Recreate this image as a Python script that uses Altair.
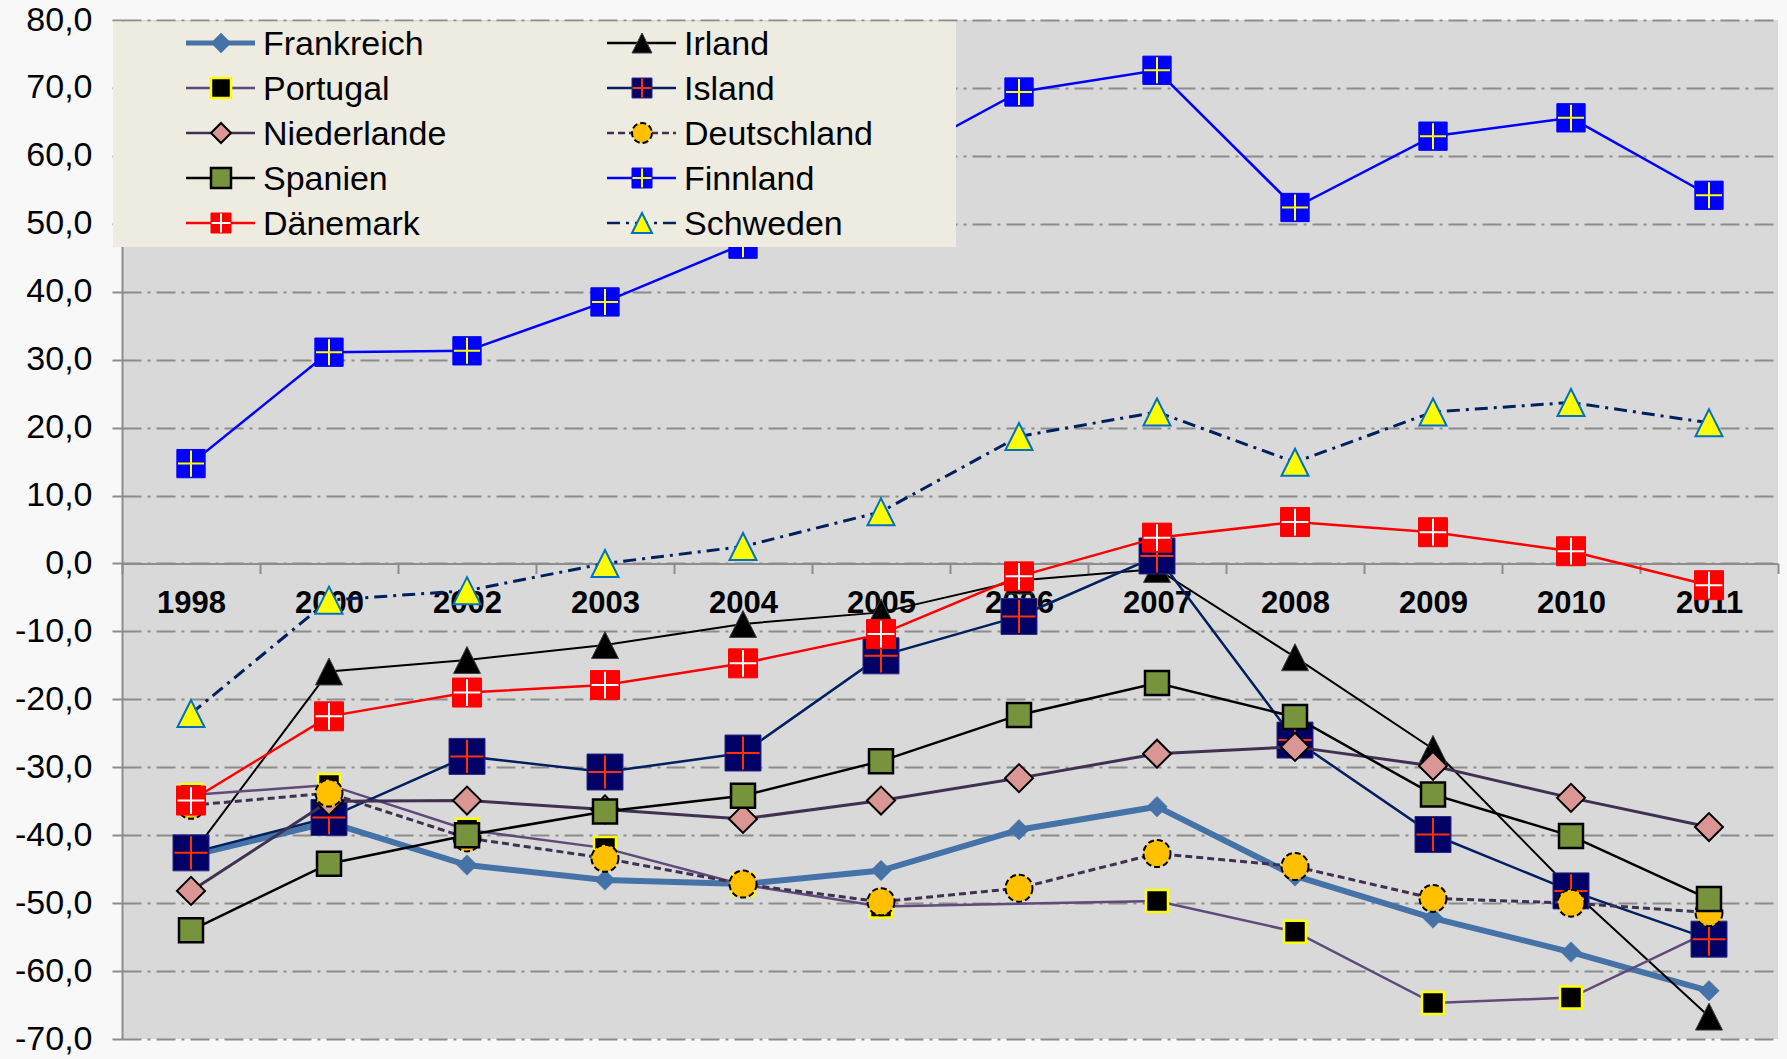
import altair as alt
import pandas as pd

# ---------------- data ----------------
years = ["1998", "2000", "2002", "2003", "2004", "2005", "2006",
         "2007", "2008", "2009", "2010", "2011"]

frankreich = [-43.0, -38.1, -44.4, -46.6, -47.2, -45.2, -39.2, -35.8, -46.0, -52.2, -57.2, -62.9]
irland = [-43.0, -15.9, -14.2, -12.0, -8.9, -7.2, -2.5, -0.8, -13.8, -27.3, -48.0, -66.7]
portugal = [-34.1, -32.6, -39.2, -41.9, -47.3, -50.5, None, -49.7, -54.2, -64.7, -63.9, -54.2]
island = [-42.6, -37.4, -28.4, -30.7, -27.9, -13.6, -7.8, 1.1, -26.0, -39.9, -48.2, -55.3]
niederlande = [-48.2, -35.0, -34.9, -36.2, -37.6, -34.9, -31.6, -28.0, -27.0, -29.8, -34.5, -38.8]
deutschland = [-35.6, -33.8, -40.4, -43.4, -47.2, -49.8, -47.8, -42.7, -44.6, -49.3, -50.0, -51.4]
spanien = [-54.0, -44.2, -40.0, -36.5, -34.2, -29.1, -22.3, -17.6, -22.6, -34.0, -40.1, -49.4]
finnland = [14.7, 31.1, 31.3, 38.5, 47.0, 58.4, 69.4, 72.6, 52.4, 62.9, 65.6, 54.2]
daenemark = [-34.9, -22.5, -19.0, -17.9, -14.7, -10.4, -1.9, 3.8, 6.1, 4.6, 1.8, -3.2]
schweden = [-22.1, -5.4, -4.0, 0.0, 2.5, 7.6, 18.7, 22.3, 14.9, 22.3, 23.7, 20.7]

series_names = ["Frankreich", "Irland", "Portugal", "Island", "Niederlande",
                "Deutschland", "Spanien", "Finnland", "Dänemark", "Schweden"]
series_values = [frankreich, irland, portugal, island, niederlande,
                 deutschland, spanien, finnland, daenemark, schweden]

# ---------------- layout / style ----------------
W, H = 1656, 1019
FONT = "Liberation Sans"
GRID = "#8c8c8c"
TRI = "M0,-1L1,1L-1,1Z"
CROSS = "M-1,0L1,0M0,-1L0,1"

styles = {
    "Frankreich": dict(line="#4572a7", lw=6, dash=None, shape="diamond", size=420,
                       fill="#4572a7", stroke="#4572a7", sw=0.5, cross=None),
    "Irland": dict(line="#000000", lw=2, dash=None, shape=TRI, size=729,
                   fill="#000000", stroke="#404040", sw=1, cross=None),
    "Portugal": dict(line="#604a7b", lw=2.5, dash=None, shape="square", size=484,
                     fill="#000000", stroke="#ffff00", sw=2.5, cross=None),
    "Island": dict(line="#002060", lw=2.5, dash=None, shape="square", size=1296,
                   fill="#000066", stroke="#2a2a80", sw=1, cross="#ff3300"),
    "Niederlande": dict(line="#403152", lw=3, dash=None, shape="diamond", size=784,
                        fill="#d99694", stroke="#000000", sw=2, cross=None),
    "Deutschland": dict(line="#403152", lw=3, dash=[7, 4], shape="circle", size=729,
                        fill="#ffc000", stroke="#000000", sw=2, cross=None, mdash=[6, 3]),
    "Spanien": dict(line="#000000", lw=2.5, dash=None, shape="square", size=576,
                    fill="#77933c", stroke="#000000", sw=2.5, cross=None),
    "Finnland": dict(line="#0000ff", lw=2.5, dash=None, shape="square", size=800,
                     fill="#0000ff", stroke="#0000ff", sw=1, cross="#ffff00"),
    "Dänemark": dict(line="#ff0000", lw=2.5, dash=None, shape="square", size=841,
                     fill="#ff0000", stroke="#ff0000", sw=1, cross="#ffffff"),
    "Schweden": dict(line="#002060", lw=3, dash=[13, 6, 3, 6], shape=TRI, size=729,
                     fill="#ffff00", stroke="#0070c0", sw=2, cross=None),
}

label_expr = ("(datum.value < 0 ? '-' : '') + "
              "replace(format(abs(datum.value), '.1f'), '.', ',')")

x_enc = alt.X(
    "Jahr:O", sort=years, bandPosition=0.5,
    scale=alt.Scale(type="band", domain=years, paddingInner=0, paddingOuter=0),
    axis=alt.Axis(title=None, orient="bottom", offset=-(H - H * 80 / 150),
                  domain=True, domainColor=GRID, domainWidth=2,
                  ticks=True, tickBand="extent", tickSize=10, tickColor=GRID, tickWidth=2,
                  labelFont=FONT, labelFontSize=31, labelFontWeight="bold",
                  labelColor="black", labelPadding=15, labelAngle=0, grid=False),
)
y_enc = alt.Y(
    "Wert:Q",
    scale=alt.Scale(domain=[-70, 80], nice=False, zero=False),
    axis=alt.Axis(title=None, values=list(range(-70, 81, 10)), labelExpr=label_expr,
                  labelFont=FONT, labelFontSize=34, labelColor="black", labelPadding=20,
                  tickSize=10, tickColor=GRID, tickWidth=2,
                  domain=True, domainColor=GRID, domainWidth=2,
                  grid=True, gridColor=GRID, gridWidth=2, gridDash=[19, 6, 3, 6]),
)


def point_kwargs(st, size=None):
    kw = dict(shape=st["shape"], size=size or st["size"], filled=True, fill=st["fill"],
              stroke=st["stroke"], strokeWidth=st["sw"], opacity=1,
              fillOpacity=1, strokeOpacity=1)
    if st.get("mdash"):
        kw["strokeDash"] = st["mdash"]
    return kw


def line_kwargs(st, lw=None):
    kw = dict(color=st["line"], strokeWidth=lw or st["lw"])
    if st["dash"]:
        kw["strokeDash"] = st["dash"]
    return kw


layers = []
for name, vals in zip(series_names, series_values):
    st = styles[name]
    rows = [{"Jahr": y, "Wert": v} for y, v in zip(years, vals) if v is not None]
    base = alt.Chart(pd.DataFrame(rows)).encode(x=x_enc, y=y_enc)
    layers.append(base.mark_line(**line_kwargs(st)))
    layers.append(base.mark_point(**point_kwargs(st)))
    if st["cross"]:
        layers.append(base.mark_point(shape=CROSS, size=st["size"] * 0.85, filled=False,
                                      stroke=st["cross"], strokeWidth=2, opacity=1))

# ---------------- legend (drawn as marks on top) ----------------
leg_df = pd.DataFrame({"Land": ["legend"]})
layers.append(
    alt.Chart(leg_df).mark_rect(color="#eeece1", opacity=1).encode(
        x=alt.value(-9), x2=alt.value(834), y=alt.value(1.5), y2=alt.value(227))
)
col_center = [99, 520]
col_text = [141, 562]
for i, name in enumerate(series_names):
    st = styles[name]
    col, row = i % 2, i // 2
    cx = col_center[col]
    cy = 23 + row * 45
    d = pd.DataFrame({"Land": [name]})
    c = alt.Chart(d)
    lw = 5 if name == "Frankreich" else 2.5
    layers.append(c.mark_rule(**line_kwargs(st, lw)).encode(
        x=alt.value(cx - 35), x2=alt.value(cx + 34), y=alt.value(cy)))
    layers.append(c.mark_point(**point_kwargs(st, 400)).encode(
        x=alt.value(cx), y=alt.value(cy)))
    if st["cross"]:
        layers.append(c.mark_point(shape=CROSS, size=360, filled=False, stroke=st["cross"],
                                   strokeWidth=2, opacity=1).encode(
            x=alt.value(cx), y=alt.value(cy)))
    layers.append(c.mark_text(align="left", baseline="middle", font=FONT, fontSize=34,
                              color="black").encode(
        x=alt.value(col_text[col]), y=alt.value(cy + 2), text=alt.Text("Land:N")))

chart = alt.layer(*layers).properties(
    width=W, height=H,
    padding={"left": 122, "top": 20, "right": 9, "bottom": 20},
    autosize=alt.AutoSizeParams(type="none"),
    background="#f8f8f8",
).configure_view(fill="#d9d9d9", strokeWidth=0)

chart.save("out.html", embed_options={"renderer": "svg", "actions": False})
